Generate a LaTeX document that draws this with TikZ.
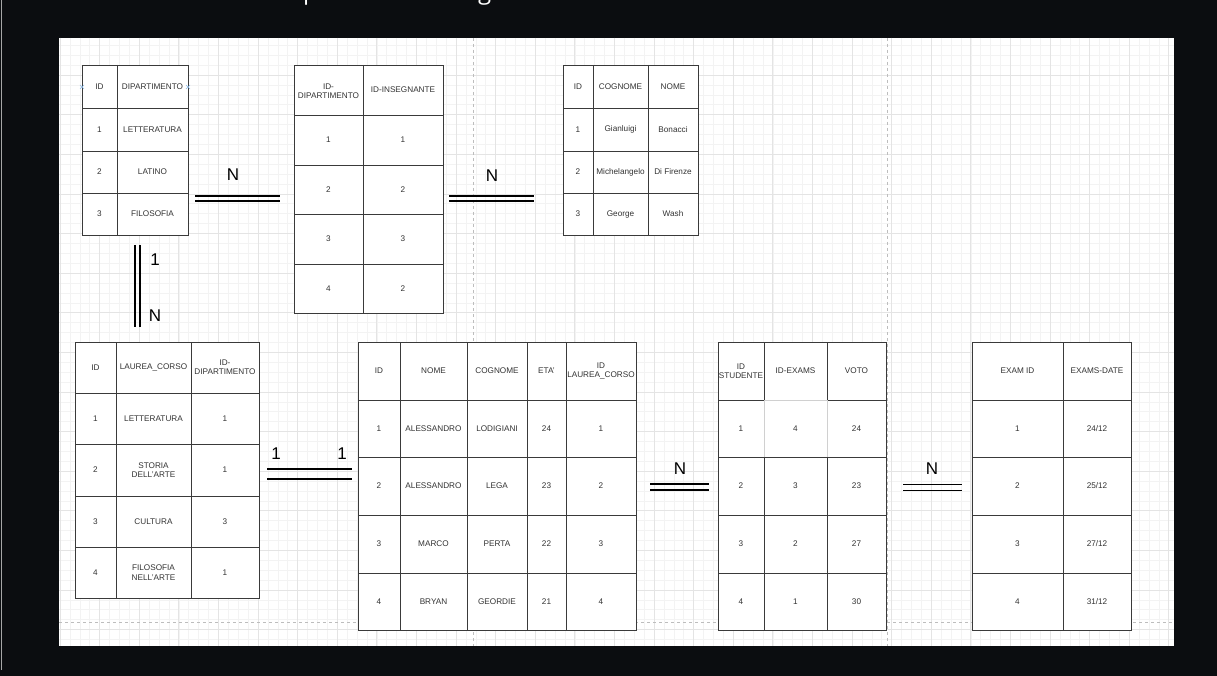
\documentclass[tikz,border=0pt]{standalone}
\usepackage{fontspec}
\setmainfont{Liberation Sans}
\newfontfamily\osans{Open Sans}
\definecolor{bg}{HTML}{0B0D10}
\definecolor{minorg}{HTML}{F3F3F3}
\definecolor{majorg}{HTML}{E4E4E4}
\definecolor{pageb}{HTML}{BDBDBD}
\definecolor{tlc}{HTML}{3A3A3A}
\definecolor{txt}{HTML}{333333}
\definecolor{selb}{HTML}{D0D0D0}
\definecolor{markc}{HTML}{8AB8E6}
\begin{document}
\begin{tikzpicture}[x=1pt,y=-1pt,
  cell/.style={font=\fontsize{8.2}{9.4}\selectfont, text=txt, align=center, inner sep=0pt},
  card/.style={font=\fontsize{17}{17}\selectfont, text=black, inner sep=0pt},
  tl/.style={draw=tlc, line width=0.9pt},
  relline/.style={draw=black, line width=1.3pt},
  gridminor/.style={draw=minorg, line width=0.6pt},
  gridmajor/.style={draw=majorg, line width=0.7pt},
  pagebreak/.style={draw=pageb, line width=0.7pt, dash pattern=on 3pt off 3pt}]
\useasboundingbox (0,0) rectangle (1217,676);
\fill[bg] (0,0) rectangle (1217,676);
\draw[draw=gray!70, line width=1.2pt] (1.5,0) -- (1.5,670);
% title descenders (cut off)
\begin{scope}
\clip (0,0) rectangle (1217,30);
\node[anchor=base west, text=white, font=\osans\fontsize{24}{24}\selectfont, inner sep=0pt] (tp) at (303,0) {p};
\node[anchor=base west, text=white, font=\osans\fontsize{24}{24}\selectfont, inner sep=0pt] (tg) at (478,0) {g};
\end{scope}
% canvas
\fill[white] (59,38) rectangle (1174,646);
\foreach \i in {0,...,111}{\pgfmathsetmacro\xx{60+9.9*\i}\draw[gridminor] (\xx,38) -- (\xx,646);}
\foreach \i in {1,...,61}{\pgfmathsetmacro\yy{35.5+9.9*\i}\draw[gridminor] (59,\yy) -- (1174,\yy);}
\foreach \i in {0,...,28}{\pgfmathsetmacro\xx{60+39.6*\i}\draw[gridmajor] (\xx,38) -- (\xx,646);}
\foreach \i in {1,...,15}{\pgfmathsetmacro\yy{35.5+39.6*\i}\draw[gridmajor] (59,\yy) -- (1174,\yy);}
\draw[pagebreak] (473.5,38) -- (473.5,646);
\draw[pagebreak] (887,38) -- (887,646);
\draw[pagebreak] (59,622.5) -- (1174,622.5);

% ---------- Table 1: DIPARTIMENTO
\filldraw[tl, fill=white] (82,65) rectangle (188,235);
\draw[tl] (117,65) -- (117,235);
\foreach \y in {108,151,193} \draw[tl] (82,\y) -- (188,\y);
\node[cell] (a11) at (99.5,86.5) {ID};
\node[cell] (a12) at (152.5,86.5) {DIPARTIMENTO};
\node[cell] (a21) at (99.5,129.5) {1};
\node[cell] (a22) at (152.5,129.5) {LETTERATURA};
\node[cell] (a31) at (99.5,172) {2};
\node[cell] (a32) at (152.5,172) {LATINO};
\node[cell] (a41) at (99.5,214) {3};
\node[cell] (a42) at (152.5,214) {FILOSOFIA};
\draw[markc, line width=0.6pt] (80,85) -- (84,89) (80,89) -- (84,85);
\draw[markc, line width=0.6pt] (186,85) -- (190,89) (186,89) -- (190,85);

% ---------- Table 2: ID-DIPARTIMENTO / ID-INSEGNANTE
\filldraw[tl, fill=white] (294,65) rectangle (443,313);
\draw[tl] (363,65) -- (363,313);
\foreach \y in {115,165,214,264} \draw[tl] (294,\y) -- (443,\y);
\node[cell] (b11) at (328.5,91) {ID-\\DIPARTIMENTO};
\node[cell] (b12) at (403,90) {ID-INSEGNANTE};
\node[cell] (b21) at (328.5,140) {1};
\node[cell] (b22) at (403,140) {1};
\node[cell] (b31) at (328.5,189.5) {2};
\node[cell] (b32) at (403,189.5) {2};
\node[cell] (b41) at (328.5,239) {3};
\node[cell] (b42) at (403,239) {3};
\node[cell] (b51) at (328.5,288.5) {4};
\node[cell] (b52) at (403,288.5) {2};

% ---------- Table 3: ID / COGNOME / NOME
\filldraw[tl, fill=white] (563,65) rectangle (698,235);
\foreach \x in {593,648} \draw[tl] (\x,65) -- (\x,235);
\foreach \y in {108,151,193} \draw[tl] (563,\y) -- (698,\y);
\node[cell] (c11) at (578,86.5) {ID};
\node[cell] (c12) at (620.5,86.5) {COGNOME};
\node[cell] (c13) at (673,86.5) {NOME};
\node[cell] (c21) at (578,129.5) {1};
\node[cell] (c22) at (620.5,129.5) {Gianluigi};
\node[cell] (c23) at (673,129.5) {Bonacci};
\node[cell] (c31) at (578,172) {2};
\node[cell] (c32) at (620.5,172) {Michelangelo};
\node[cell] (c33) at (673,172) {Di Firenze};
\node[cell] (c41) at (578,214) {3};
\node[cell] (c42) at (620.5,214) {George};
\node[cell] (c43) at (673,214) {Wash};

% ---------- Table 4: LAUREA_CORSO
\filldraw[tl, fill=white] (75,342) rectangle (259,598);
\foreach \x in {116,191} \draw[tl] (\x,342) -- (\x,598);
\foreach \y in {393,444,496,547} \draw[tl] (75,\y) -- (259,\y);
\node[cell] (d11) at (95.5,367.5) {ID};
\node[cell] (d12) at (153.5,367.5) {LAUREA\_CORSO};
\node[cell] (d13) at (225,367.5) {ID-\\DIPARTIMENTO};
\node[cell] (d21) at (95.5,418.5) {1};
\node[cell] (d22) at (153.5,418.5) {LETTERATURA};
\node[cell] (d23) at (225,418.5) {1};
\node[cell] (d31) at (95.5,470) {2};
\node[cell] (d32) at (153.5,470) {STORIA\\DELL'ARTE};
\node[cell] (d33) at (225,470) {1};
\node[cell] (d41) at (95.5,521.5) {3};
\node[cell] (d42) at (153.5,521.5) {CULTURA};
\node[cell] (d43) at (225,521.5) {3};
\node[cell] (d51) at (95.5,572.5) {4};
\node[cell] (d52) at (153.5,572.5) {FILOSOFIA\\NELL'ARTE};
\node[cell] (d53) at (225,572.5) {1};

% ---------- Table 5: STUDENTI
\filldraw[tl, fill=white] (358,342) rectangle (636,630);
\foreach \x in {400,467,527,566} \draw[tl] (\x,342) -- (\x,630);
\foreach \y in {400,457,515,573} \draw[tl] (358,\y) -- (636,\y);
\node[cell] (e11) at (379,371) {ID};
\node[cell] (e12) at (433.5,371) {NOME};
\node[cell] (e13) at (497,371) {COGNOME};
\node[cell] (e14) at (546.5,371) {ETA'};
\node[cell] (e15) at (601,371) {ID\\LAUREA\_CORSO};
\node[cell] (e21) at (379,428.5) {1};
\node[cell] (e22) at (433.5,428.5) {ALESSANDRO};
\node[cell] (e23) at (497,428.5) {LODIGIANI};
\node[cell] (e24) at (546.5,428.5) {24};
\node[cell] (e25) at (601,428.5) {1};
\node[cell] (e31) at (379,486) {2};
\node[cell] (e32) at (433.5,486) {ALESSANDRO};
\node[cell] (e33) at (497,486) {LEGA};
\node[cell] (e34) at (546.5,486) {23};
\node[cell] (e35) at (601,486) {2};
\node[cell] (e41) at (379,544) {3};
\node[cell] (e42) at (433.5,544) {MARCO};
\node[cell] (e43) at (497,544) {PERTA};
\node[cell] (e44) at (546.5,544) {22};
\node[cell] (e45) at (601,544) {3};
\node[cell] (e51) at (379,601.5) {4};
\node[cell] (e52) at (433.5,601.5) {BRYAN};
\node[cell] (e53) at (497,601.5) {GEORDIE};
\node[cell] (e54) at (546.5,601.5) {21};
\node[cell] (e55) at (601,601.5) {4};

% ---------- Table 6: VOTI
\filldraw[tl, fill=white] (718,342) rectangle (886,630);
\foreach \x in {764,827} \draw[tl] (\x,342) -- (\x,630);
\foreach \y in {400,457,515,573} \draw[tl] (718,\y) -- (886,\y);
\draw[draw=selb, line width=0.9pt] (764,457) -- (764,400) -- (827,400) -- (827,457);
\node[cell] (f11) at (741,371) {ID\\STUDENTE};
\node[cell] (f12) at (795.5,371) {ID-EXAMS};
\node[cell] (f13) at (856.5,371) {VOTO};
\node[cell] (f21) at (741,428.5) {1};
\node[cell] (f22) at (795.5,428.5) {4};
\node[cell] (f23) at (856.5,428.5) {24};
\node[cell] (f31) at (741,486) {2};
\node[cell] (f32) at (795.5,486) {3};
\node[cell] (f33) at (856.5,486) {23};
\node[cell] (f41) at (741,544) {3};
\node[cell] (f42) at (795.5,544) {2};
\node[cell] (f43) at (856.5,544) {27};
\node[cell] (f51) at (741,601.5) {4};
\node[cell] (f52) at (795.5,601.5) {1};
\node[cell] (f53) at (856.5,601.5) {30};

% ---------- Table 7: EXAMS
\filldraw[tl, fill=white] (972,342) rectangle (1131,630);
\draw[tl] (1063,342) -- (1063,630);
\foreach \y in {400,457,515,573} \draw[tl] (972,\y) -- (1131,\y);
\node[cell] (g11) at (1017.5,371) {EXAM ID};
\node[cell] (g12) at (1097,371) {EXAMS-DATE};
\node[cell] (g21) at (1017.5,428.5) {1};
\node[cell] (g22) at (1097,428.5) {24/12};
\node[cell] (g31) at (1017.5,486) {2};
\node[cell] (g32) at (1097,486) {25/12};
\node[cell] (g41) at (1017.5,544) {3};
\node[cell] (g42) at (1097,544) {27/12};
\node[cell] (g51) at (1017.5,601.5) {4};
\node[cell] (g52) at (1097,601.5) {31/12};

% ---------- relationship lines
\coordinate (r1a) at (195,198.5); \coordinate (r1b) at (280,198.5);
\draw[relline] ([yshift=2.5pt]r1a) -- ([yshift=2.5pt]r1b);
\draw[relline] ([yshift=-2.5pt]r1a) -- ([yshift=-2.5pt]r1b);
\node[card] (n1) at (233,175) {N};

\coordinate (r2a) at (449,198.5); \coordinate (r2b) at (534,198.5);
\draw[relline] ([yshift=2.5pt]r2a) -- ([yshift=2.5pt]r2b);
\draw[relline] ([yshift=-2.5pt]r2a) -- ([yshift=-2.5pt]r2b);
\node[card] (n2) at (492,176) {N};

\coordinate (r3a) at (137.5,245); \coordinate (r3b) at (137.5,327);
\draw[relline] ([xshift=-2.5pt]r3a) -- ([xshift=-2.5pt]r3b);
\draw[relline] ([xshift=2.5pt]r3a) -- ([xshift=2.5pt]r3b);
\node[card] (n3a) at (155,260) {1};
\node[card] (n3b) at (155,316) {N};

\coordinate (r4a) at (267,474); \coordinate (r4b) at (352,474);
\draw[relline] ([yshift=5pt]r4a) -- ([yshift=5pt]r4b);
\draw[relline] ([yshift=-5pt]r4a) -- ([yshift=-5pt]r4b);
\node[card] (n4a) at (276,454) {1};
\node[card] (n4b) at (342,454) {1};

\coordinate (r5a) at (650,487); \coordinate (r5b) at (709,487);
\draw[relline] ([yshift=3pt]r5a) -- ([yshift=3pt]r5b);
\draw[relline] ([yshift=-3pt]r5a) -- ([yshift=-3pt]r5b);
\node[card] (n5) at (680,469) {N};

\coordinate (r6a) at (903,487.5); \coordinate (r6b) at (962,487.5);
\draw[relline] ([yshift=2.7pt]r6a) -- ([yshift=2.7pt]r6b);
\draw[relline] ([yshift=-2.7pt]r6a) -- ([yshift=-2.7pt]r6b);
\node[card] (n6) at (932,469) {N};
\end{tikzpicture}
\end{document}
